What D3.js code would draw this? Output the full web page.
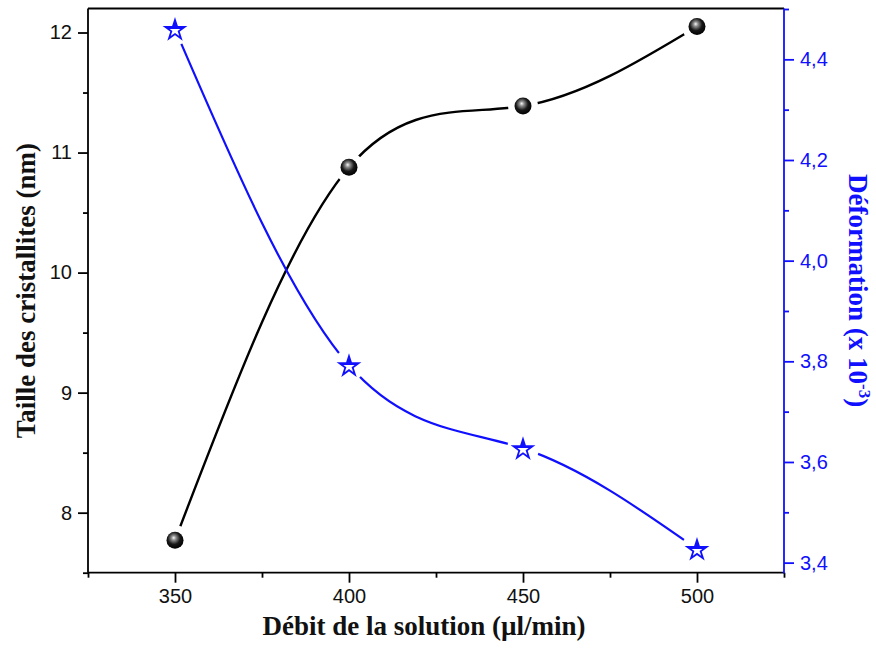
<!DOCTYPE html>
<html><head><meta charset="utf-8">
<script src="https://cdn.jsdelivr.net/npm/d3@7"></script>
<style>body{margin:0;background:#fff}svg{display:block}</style>
</head><body>
<svg id="c" width="876" height="648"></svg>
<script>
const flowRates = [350, 400, 450, 500];
const crystalliteSize = [7.77, 10.877, 11.387, 12.05];
const deformation = [4.46, 3.792, 3.627, 3.427];
const xTicks = [350, 400, 450, 500];
const leftTicks = [8, 9, 10, 11, 12];
const rightTicks = [3.4, 3.6, 3.8, 4.0, 4.2, 4.4];

const svg = d3.select('#c');
const L = 88, R = 784, T = 8.5, B = 572.7;
const x = d3.scaleLinear().domain([325, 525]).range([L, R]);
const yL = d3.scaleLinear().domain([7.5, 12.2]).range([B, T]);
const yR = d3.scaleLinear().domain([3.38, 4.501]).range([B, T]);
const blue = '#1010ff';
const defs = svg.append('defs');

// sphere gradient
const rg = defs.append('radialGradient').attr('id','sph').attr('cx','0.45').attr('cy','0.4').attr('r','0.6').attr('fx','0.42').attr('fy','0.35');
rg.append('stop').attr('offset','0').attr('stop-color','#f8f8f8');
rg.append('stop').attr('offset','0.22').attr('stop-color','#909090');
rg.append('stop').attr('offset','0.6').attr('stop-color','#181818');
rg.append('stop').attr('offset','1').attr('stop-color','#000');
const lg = defs.append('linearGradient').attr('id','starg').attr('x1','0').attr('y1','0').attr('x2','0').attr('y2','1');
lg.append('stop').attr('offset','0').attr('stop-color',blue);
lg.append('stop').attr('offset','0.5').attr('stop-color',blue);
lg.append('stop').attr('offset','0.5').attr('stop-color','#fff');
lg.append('stop').attr('offset','1').attr('stop-color','#fff');

function makeMask(id, ys, yScale, r){
  const m = defs.append('mask').attr('id', id).attr('maskUnits','userSpaceOnUse')
    .attr('x',0).attr('y',0).attr('width',876).attr('height',648);
  m.append('rect').attr('width',876).attr('height',648).attr('fill','#fff');
  m.selectAll('circle').data(flowRates).join('circle')
    .attr('cx', d => x(d)).attr('cy', (d,i) => yScale(ys[i])).attr('r', r).attr('fill','#000');
}
makeMask('mk', crystalliteSize, yL, 15);
makeMask('mb', deformation, yR, 16);

// Axes
svg.append('g').attr('transform',`translate(0,${B})`)
  .call(d3.axisBottom(x).tickValues(xTicks).tickSize(10).tickPadding(6).tickFormat(d3.format('d')));
svg.append('g').attr('transform',`translate(0,${B})`)
  .call(d3.axisBottom(x).tickValues([325,375,425,475,525]).tickSize(5).tickFormat(''));
svg.append('g').attr('transform',`translate(${L},0)`)
  .call(d3.axisLeft(yL).tickValues(leftTicks).tickSize(10).tickPadding(6).tickFormat(d3.format('d')));
svg.append('g').attr('transform',`translate(${L},0)`)
  .call(d3.axisLeft(yL).tickValues([7.5,8.5,9.5,10.5,11.5]).tickSize(5).tickFormat(''));
const axR = svg.append('g').attr('transform',`translate(${R},0)`)
  .call(d3.axisRight(yR).tickValues(rightTicks).tickSize(10).tickPadding(6).tickFormat(d => d3.format('.1f')(d).replace('.',',')));
const axR2 = svg.append('g').attr('transform',`translate(${R},0)`)
  .call(d3.axisRight(yR).tickValues([3.5,3.7,3.9,4.1,4.3,4.5]).tickSize(5).tickFormat(''));
svg.selectAll('.domain').remove();
svg.selectAll('.tick line').attr('stroke-width',1.8);
svg.selectAll('.tick text').attr('font-family','"Liberation Sans", Arial, sans-serif').attr('font-size',20).attr('fill','#111');
axR.selectAll('line').attr('stroke',blue);
axR.selectAll('text').attr('fill',blue);
axR2.selectAll('line').attr('stroke',blue);

// frame
svg.append('line').attr('x1',L).attr('x2',R).attr('y1',T).attr('y2',T).attr('stroke','#000').attr('stroke-width',1.8);
svg.append('line').attr('x1',L).attr('x2',R).attr('y1',B).attr('y2',B).attr('stroke','#000').attr('stroke-width',1.8);
svg.append('line').attr('x1',L).attr('x2',L).attr('y1',T).attr('y2',B).attr('stroke','#000').attr('stroke-width',1.8);
svg.append('line').attr('x1',R).attr('x2',R).attr('y1',T).attr('y2',B+0.9).attr('stroke',blue).attr('stroke-width',1.8);

// curves
const lineK = d3.line().x(d => x(d[0])).y(d => yL(d[1])).curve(d3.curveNatural);
const lineB = d3.line().x(d => x(d[0])).y(d => yR(d[1])).curve(d3.curveNatural);
svg.append('path').attr('d', lineK(flowRates.map((f,i)=>[f,crystalliteSize[i]])))
  .attr('fill','none').attr('stroke','#000').attr('stroke-width',2.4).attr('mask','url(#mk)');
svg.append('path').attr('d', lineB(flowRates.map((f,i)=>[f,deformation[i]])))
  .attr('fill','none').attr('stroke',blue).attr('stroke-width',2.2).attr('mask','url(#mb)');

// markers
svg.selectAll('circle.pt').data(flowRates).join('circle').attr('class','pt')
  .attr('cx', d => x(d)).attr('cy', (d,i) => yL(crystalliteSize[i])).attr('r', 8.5).attr('fill','url(#sph)');
const star = d3.symbol().type(d3.symbolStar).size(115);
svg.selectAll('path.st').data(flowRates).join('path').attr('class','st')
  .attr('transform', (d,i) => `translate(${x(d)},${yR(deformation[i])+1})`)
  .attr('d', star()).attr('fill','url(#starg)').attr('stroke',blue).attr('stroke-width',1.8).attr('stroke-linejoin','miter');

// titles
const serif = '"Liberation Serif", "Times New Roman", serif';
svg.append('text').attr('x', (L+R)/2 - 12).attr('y', 635).attr('text-anchor','middle')
  .attr('font-family',serif).attr('font-weight','bold').attr('font-size',27).attr('fill','#111')
  .text('Débit de la solution (µl/min)');
svg.append('text').attr('transform',`translate(35,${(T+B)/2}) rotate(-90)`).attr('text-anchor','middle')
  .attr('font-family',serif).attr('font-weight','bold').attr('font-size',27).attr('fill','#111')
  .text('Taille des cristallites (nm)');
const rt = svg.append('text').attr('transform',`translate(849,${(T+B)/2}) rotate(90)`).attr('text-anchor','middle')
  .attr('font-family',serif).attr('font-weight','bold').attr('font-size',27).attr('fill',blue);
rt.append('tspan').text('Déformation (x 10');
rt.append('tspan').attr('dy',-10).attr('font-size',17).text('-3');
rt.append('tspan').attr('dy',10).text(')');
</script>
</body></html>
